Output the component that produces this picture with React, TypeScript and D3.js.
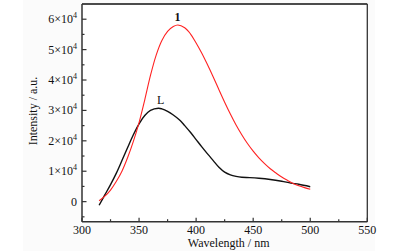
import React from "react";
import * as d3 from "d3";

const wavelengthsL = [315, 320, 325, 330, 335, 340, 345, 350, 355, 360, 367, 370, 375, 380, 386, 390, 395, 400, 405, 410, 415, 420, 425, 430, 435, 440, 447, 455, 465, 475, 483, 490, 500];
const valuesL = [-0.12, 0.22, 0.56, 0.93, 1.35, 1.78, 2.2, 2.56, 2.83, 3.0, 3.07, 3.05, 2.97, 2.85, 2.67, 2.5, 2.28, 2.04, 1.8, 1.57, 1.35, 1.13, 0.97, 0.88, 0.83, 0.8, 0.79, 0.77, 0.73, 0.67, 0.61, 0.57, 0.49];

const wavelengths1 = [315, 320, 325, 330, 335, 340, 345, 350, 355, 360, 365, 370, 375, 380, 384, 390, 395, 400, 405, 410, 415, 420, 425, 430, 435, 440, 445, 450, 455, 460, 465, 470, 475, 480, 485, 490, 495, 500];
const values1 = [0.03, 0.18, 0.38, 0.66, 1.0, 1.45, 1.98, 2.6, 3.35, 4.15, 4.82, 5.3, 5.6, 5.76, 5.81, 5.72, 5.52, 5.22, 4.88, 4.5, 4.1, 3.68, 3.27, 2.88, 2.52, 2.2, 1.91, 1.66, 1.44, 1.25, 1.08, 0.94, 0.81, 0.7, 0.6, 0.52, 0.46, 0.41];

const xTicks = [300, 350, 400, 450, 500, 550];
const xMinor = [325, 375, 425, 475, 525];
const yTicks = [0, 1, 2, 3, 4, 5, 6];
const yMinor = [-0.5, 0.5, 1.5, 2.5, 3.5, 4.5, 5.5];

const seriesLabels = [
  { text: "1", x: 383.6, y: 5.81, bold: true },
  { text: "L", x: 369, y: 3.07, bold: false },
];

export default function App() {
  const left = 82, right = 367.3, top = 4, bottom = 221.7;
  const x = d3.scaleLinear().domain([300, 550]).range([left, right]);
  const y = d3.scaleLinear().domain([-0.66, 6.5]).range([bottom, top]);
  const line = d3.line<[number, number]>().x(d => x(d[0])).y(d => y(d[1])).curve(d3.curveCatmullRom.alpha(0.5));
  const dL = line(wavelengthsL.map((w, i) => [w, valuesL[i]]) as [number, number][]) || "";
  const d1 = line(wavelengths1.map((w, i) => [w, values1[i]]) as [number, number][]) || "";
  const font = '"Liberation Serif", "Times New Roman", "DejaVu Serif", serif';
  const ts: React.CSSProperties = { fontFamily: font, fontSize: 12 };
  const axisColor = "#333";
  return (
    <svg width={396} height={251} style={{ position: "absolute", left: 0, top: 0 }}>
      <rect x={0} y={0} width={396} height={251} fill="#fff" />
      <rect x={23} y={0} width={352} height={251} fill="#fbfbfb" />
      <rect x={left} y={top} width={right - left} height={bottom - top} fill="#fff" />
      <path d={dL} fill="none" stroke="#111" strokeWidth={1.4} />
      <path d={d1} fill="none" stroke="#f22" strokeWidth={1.1} />
      <line x1={left} x2={right} y1={top} y2={top} stroke="#111" strokeWidth={1.5} />
      <line x1={right} x2={right} y1={top} y2={bottom} stroke={axisColor} strokeWidth={1.3} />
      <line x1={left} x2={right} y1={bottom} y2={bottom} stroke={axisColor} strokeWidth={1.5} />
      <line x1={left} x2={left} y1={top} y2={bottom} stroke={axisColor} strokeWidth={1.5} />
      {xTicks.map(t => (
        <g key={"xt" + t}>
          <line x1={x(t)} x2={x(t)} y1={bottom} y2={bottom - 4} stroke={axisColor} strokeWidth={1.2} />
          <text x={x(t)} y={bottom + 12} style={ts} textAnchor="middle" fill="#111">{t}</text>
        </g>
      ))}
      {xMinor.map(t => (
        <line key={"xm" + t} x1={x(t)} x2={x(t)} y1={bottom} y2={bottom - 2.5} stroke={axisColor} strokeWidth={1.2} />
      ))}
      {yTicks.map(t => (
        <g key={"yt" + t}>
          <line x1={left} x2={left + 4.5} y1={y(t)} y2={y(t)} stroke={axisColor} strokeWidth={1.2} />
          {t === 0 ? (
            <text x={left - 5} y={y(t) + 4} style={ts} textAnchor="end" fill="#111">0</text>
          ) : (
            <text x={left - 5} y={y(t) + 4} style={ts} textAnchor="end" fill="#111">
              {t}×10<tspan style={{ fontSize: 8 }} dy={-5}>4</tspan>
            </text>
          )}
        </g>
      ))}
      {yMinor.map(t => (
        <line key={"ym" + t} x1={left} x2={left + 2.5} y1={y(t)} y2={y(t)} stroke={axisColor} strokeWidth={1.2} />
      ))}
      <text x={(left + right) / 2 + 4} y={247} style={ts} textAnchor="middle" fill="#111">Wavelength / nm</text>
      <text transform={`translate(37,111) rotate(-90)`} style={ts} textAnchor="middle" fill="#111">Intensity / a.u.</text>
      {seriesLabels.map(l => (
        <text key={l.text} x={x(l.x)} y={y(l.y) - 4} style={{ ...ts, fontWeight: l.bold ? "bold" : "normal" }} textAnchor="middle" fill="#111">{l.text}</text>
      ))}
    </svg>
  );
}
